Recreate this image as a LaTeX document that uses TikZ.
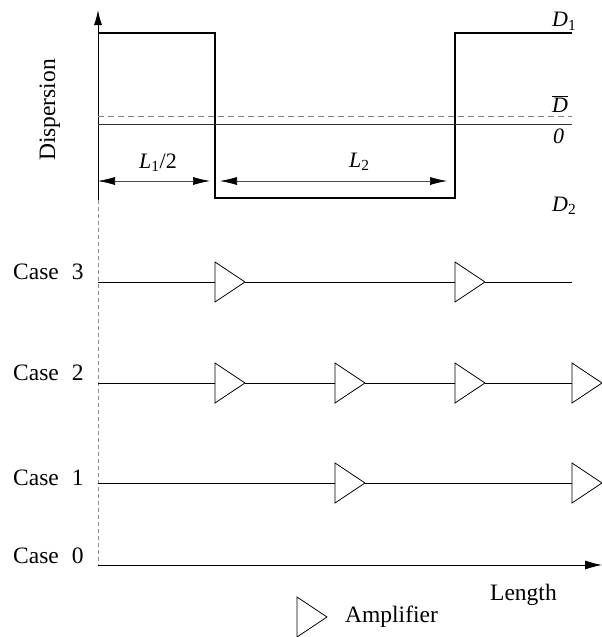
\documentclass[tikz,border=0pt]{standalone}
\usepackage{fontspec}
\setmainfont{Liberation Serif}
\usetikzlibrary{arrows.meta}
\tikzset{
  amp/.pic={
    \draw[line width=0.8pt, fill=white, line join=miter] (0,-20) -- (0,20) -- (30,0) -- cycle;
    \coordinate (-in) at (0,0);
    \coordinate (-out) at (30,0);
  },
  lbl/.style={font=\fontsize{23.5}{28}\selectfont, inner sep=0pt},
  mlbl/.style={font=\fontsize{22}{26}\selectfont, inner sep=0pt},
  wave/.style={line width=1.8pt, line join=miter},
  fibre/.style={line width=0.8pt},
  dimarrow/.style={line width=0.6pt, draw=black!70, {Latex[length=17pt,width=8pt,color=black]}-{Latex[length=17pt,width=8pt,color=black]}},
}
\begin{document}
\begin{tikzpicture}[x=1pt,y=-1pt]
\useasboundingbox (0,0) rectangle (602,637);

% axes
\coordinate (top) at (98,10);
\coordinate (mid) at (98,200);
\coordinate (orig) at (98,565);
\coordinate (xend) at (602,565);
\draw[line width=1pt, -{Latex[length=15pt,width=8pt]}] (mid) -- (top);
\draw[line width=0.8pt, draw=black!45, dash pattern=on 4pt off 3pt] (mid) -- (orig);
\draw[line width=0.8pt, -{Latex[length=17pt,width=9pt]}] (orig) -- (xend);

% reference lines
\coordinate (db0) at (98,116);
\coordinate (db1) at (572,116);
\coordinate (z0) at (98,124);
\coordinate (z1) at (572,124);
\draw[line width=0.7pt, draw=black!50, dash pattern=on 6pt off 4pt] (db0) -- (db1);
\draw[line width=0.6pt, draw=black!80] (z0) -- (z1);

% dispersion map
\coordinate (w0) at (98,33);
\coordinate (w1) at (215,33);
\coordinate (w2) at (215,198);
\coordinate (w3) at (455,198);
\coordinate (w4) at (455,33);
\coordinate (w5) at (572,33);
\draw[wave] (w0) -- (w1) -- (w2) -- (w3) -- (w4) -- (w5);

% level labels
\node[mlbl, anchor=base west] (D1) at (552,27) {\textit{D}\textsubscript{1}};
\node[mlbl, anchor=base west] (Dbar) at (552,112) {$\overline{\textit{D}}$};
\node[mlbl, anchor=base west] (zero) at (553,143) {\textit{0}};
\node[mlbl, anchor=base west] (D2) at (552,211) {\textit{D}\textsubscript{2}};

% dimension arrows
\coordinate (d0) at (98,181);
\coordinate (d1) at (210,181);
\coordinate (d2) at (220,181);
\coordinate (d3) at (447,181);
\draw[dimarrow] (d0) -- (d1);
\draw[dimarrow] (d2) -- (d3);
\node[mlbl, anchor=base west] (L1) at (139,168) {\textit{L}\textsubscript{1}/2};
\node[mlbl, anchor=base west] (L2) at (349,167) {\textit{L}\textsubscript{2}};

% axis labels
\node[lbl, anchor=base, rotate=90] (disp) at (55,110) {Dispersion};
\node[lbl, anchor=base west] (len) at (490,600) {Length};

% case labels
\node[lbl, anchor=base west] (c3) at (13,279) {Case\hspace{0.55em}3};
\node[lbl, anchor=base west] (c2) at (13,380) {Case\hspace{0.55em}2};
\node[lbl, anchor=base west] (c1) at (13,485) {Case\hspace{0.55em}1};
\node[lbl, anchor=base west] (c0) at (13,563) {Case\hspace{0.55em}0};

% Case 3
\coordinate (s3) at (98,282);
\coordinate (e3) at (572,282);
\pic (a31) at (215,282) {amp};
\pic (a32) at (455,282) {amp};
\draw[fibre] (s3) -- (a31-in);
\draw[fibre] (a31-out) -- (a32-in);
\draw[fibre] (a32-out) -- (e3);

% Case 2
\coordinate (s2) at (98,383);
\pic (a21) at (215,383) {amp};
\pic (a22) at (335,383) {amp};
\pic (a23) at (455,383) {amp};
\pic (a24) at (572,383) {amp};
\draw[fibre, line width=1pt] (s2) -- (a21-in);
\draw[fibre, line width=1pt] (a21-out) -- (a22-in);
\draw[fibre, line width=1pt] (a22-out) -- (a23-in);
\draw[fibre, line width=1pt] (a23-out) -- (a24-in);

% Case 1
\coordinate (s1) at (98,483);
\pic (a11) at (335,483) {amp};
\pic (a12) at (572,483) {amp};
\draw[fibre] (s1) -- (a11-in);
\draw[fibre] (a11-out) -- (a12-in);

% legend
\pic (leg) at (297,617) {amp};
\node[lbl, anchor=base west] (ampl) at (345,622) {Amplifier};
\end{tikzpicture}
\end{document}
